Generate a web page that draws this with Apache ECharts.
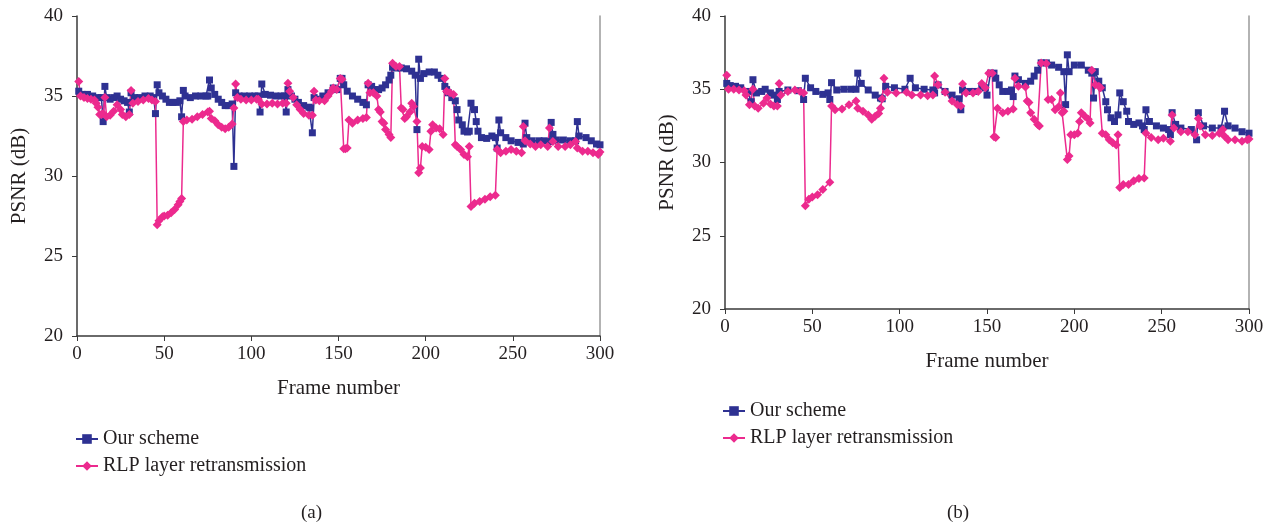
<!DOCTYPE html>
<html><head><meta charset="utf-8">
<script src="https://cdn.jsdelivr.net/npm/echarts@6/dist/echarts.min.js"></script>
<style>html,body{margin:0;padding:0;background:#fff}#c{width:1273px;height:525px}</style>
</head><body><div id="c"></div>
<script>
// ---------- data ----------
const seriesNames = ['Our scheme', 'RLP layer retransmission'];
const xTicks = [0, 50, 100, 150, 200, 250, 300];
const yTicks = [20, 25, 30, 35, 40];
const panelLabels = ['(a)', '(b)'];

// panel (a): [frame, PSNR dB]
const oursA = [[1,35.3],[3,35.1],[6,35.1],[9,35.0],[12,34.9],[14,34.9],[15,33.4],[16,35.6],[17,34.9],[19,34.8],[21,34.9],[23,35.0],[25,34.8],[27,34.7],[29,34.6],[30,34.0],[31,35.2],[33,34.9],[36,34.9],[39,35.0],[42,35.0],[44,34.9],[45,33.9],[46,35.7],[47,35.2],[49,35.0],[51,34.8],[53,34.6],[55,34.6],[57,34.6],[59,34.7],[60,33.7],[61,35.35],[62,35.0],[65,34.9],[68,35.0],[71,35.0],[74,35.0],[75,35.0],[76,36.0],[77,35.5],[79,35.1],[81,34.8],[83,34.6],[85,34.4],[87,34.4],[89,34.5],[90,30.6],[91,35.2],[93,35.0],[96,35.0],[99,35.0],[102,35.0],[104,35.0],[105,34.0],[106,35.75],[108,35.1],[111,35.05],[114,35.0],[117,35.0],[119,35.0],[120,34.0],[121,35.4],[123,35.0],[125,34.8],[127,34.6],[130,34.4],[133,34.3],[134,34.25],[135,32.7],[136,34.9],[138,34.8],[141,35.0],[144,35.2],[147,35.5],[149,35.4],[151,36.1],[152,36.1],[153,35.7],[155,35.3],[158,35.0],[161,34.8],[164,34.6],[166,34.45],[167,35.7],[169,35.6],[171,35.4],[173,35.4],[175,35.5],[177,35.7],[179,36.0],[180,36.3],[181,36.8],[183,36.75],[186,36.75],[189,36.7],[192,36.55],[194,36.3],[195,32.9],[196,37.3],[197,36.1],[199,36.4],[202,36.5],[205,36.5],[207,36.3],[209,36.1],[211,35.6],[212,35.4],[213,35.2],[215,34.9],[217,34.7],[218,34.15],[219,33.5],[221,33.2],[222,32.8],[224,32.75],[225,32.8],[226,34.55],[228,34.15],[229,33.4],[230,32.8],[232,32.4],[235,32.35],[238,32.5],[240,32.4],[241,31.75],[242,33.5],[243,32.7],[246,32.4],[249,32.2],[253,32.1],[256,32.0],[257,33.3],[258,32.4],[261,32.2],[265,32.2],[268,32.2],[271,32.15],[272,33.35],[273,32.6],[275,32.25],[279,32.25],[283,32.2],[286,32.2],[287,33.4],[288,32.5],[292,32.4],[295,32.2],[298,32.0],[300,31.95]];
const rlpA = [[1,35.9],[2,35.0],[4,34.9],[6,34.85],[8,34.8],[10,34.75],[11,34.55],[12,34.3],[13,33.85],[14,33.85],[15,33.9],[16,34.9],[17,33.7],[19,33.8],[21,34.05],[23,34.45],[25,34.15],[26,33.85],[28,33.7],[30,33.85],[31,35.35],[32,34.55],[35,34.65],[38,34.75],[41,34.85],[43,34.75],[45,34.65],[46,26.95],[47,27.2],[49,27.45],[50,27.5],[52,27.55],[54,27.7],[56,27.9],[58,28.2],[59,28.4],[60,28.6],[61,33.4],[63,33.5],[66,33.55],[69,33.7],[72,33.85],[75,34.0],[76,34.05],[77,33.6],[79,33.45],[81,33.2],[83,33.05],[85,32.95],[87,33.05],[89,33.25],[90,34.25],[91,35.75],[92,34.9],[94,34.8],[97,34.75],[100,34.75],[103,34.8],[104,34.8],[106,34.5],[109,34.5],[112,34.55],[115,34.5],[118,34.55],[120,34.55],[121,35.8],[122,35.3],[124,34.9],[126,34.45],[128,34.15],[130,33.9],[133,33.8],[135,33.8],[136,35.3],[137,34.75],[139,34.7],[142,34.7],[144,35.0],[146,35.3],[147,35.5],[149,35.4],[151,36.1],[152,36.05],[153,31.7],[154,31.7],[155,31.75],[156,33.5],[158,33.3],[161,33.5],[164,33.6],[166,33.65],[167,35.8],[168,35.2],[170,35.2],[172,35.0],[173,34.15],[174,34.0],[175,33.4],[176,33.3],[177,32.9],[179,32.6],[180,32.4],[181,37.05],[183,36.85],[185,36.85],[186,34.25],[187,34.15],[188,33.6],[189,33.7],[191,34.0],[192,34.55],[193,34.35],[195,33.4],[196,30.2],[197,30.5],[198,31.85],[200,31.8],[202,31.65],[203,32.8],[204,33.2],[206,33.0],[208,32.95],[210,32.6],[211,36.1],[212,35.3],[214,35.2],[216,35.1],[217,31.95],[218,31.85],[220,31.65],[222,31.35],[224,31.2],[225,31.85],[226,28.1],[228,28.3],[231,28.4],[234,28.55],[237,28.7],[240,28.8],[241,31.65],[243,31.45],[246,31.55],[249,31.65],[252,31.55],[255,31.45],[256,33.1],[257,32.2],[260,32.0],[263,31.85],[266,31.95],[270,31.85],[271,33.0],[273,32.15],[276,31.85],[280,31.85],[283,31.95],[286,32.15],[287,31.75],[290,31.55],[293,31.55],[296,31.45],[299,31.35],[300,31.5]];

// panel (b): [frame, PSNR dB]
const oursB = [[1,35.4],[3,35.25],[6,35.2],[9,35.1],[13,34.85],[15,34.15],[16,35.65],[18,34.75],[21,34.85],[23,35.0],[26,34.75],[28,34.6],[30,34.3],[31,34.85],[36,34.95],[42,34.9],[45,34.3],[46,35.75],[49,35.1],[52,34.85],[56,34.65],[59,34.75],[60,34.3],[61,35.45],[64,34.95],[68,35.0],[72,35.0],[75,35.0],[76,36.1],[78,35.4],[82,34.95],[86,34.6],[89,34.4],[90,34.35],[92,35.2],[97,35.1],[103,35.0],[106,35.75],[109,35.1],[114,35.0],[119,34.95],[120,34.75],[122,35.3],[126,34.85],[130,34.6],[134,34.35],[135,33.6],[136,34.95],[140,34.85],[143,34.85],[147,35.2],[149,35.1],[150,34.6],[152,36.1],[154,36.1],[155,35.75],[157,35.3],[159,34.85],[162,34.85],[164,34.95],[165,34.5],[166,35.9],[168,35.65],[172,35.4],[175,35.55],[177,35.9],[179,36.3],[181,36.8],[184,36.8],[187,36.65],[191,36.5],[194,36.2],[195,33.95],[196,37.35],[197,36.2],[200,36.65],[204,36.65],[208,36.3],[210,36.1],[211,34.4],[212,36.2],[214,35.55],[216,35.1],[218,34.15],[219,33.6],[221,33.05],[223,32.8],[225,33.25],[226,34.75],[228,34.15],[230,33.5],[231,32.8],[234,32.6],[237,32.7],[239,32.5],[240,32.25],[241,33.6],[243,32.8],[247,32.5],[251,32.35],[254,32.25],[255,31.9],[256,33.4],[258,32.6],[261,32.35],[267,32.25],[270,31.55],[271,33.4],[274,32.5],[279,32.35],[284,32.35],[286,33.5],[288,32.5],[292,32.35],[296,32.1],[300,32.0]];
const rlpB = [[1,35.95],[2,35.0],[5,35.0],[8,34.95],[11,34.9],[12,34.6],[14,33.95],[16,35.0],[17,33.85],[19,33.7],[22,34.05],[24,34.4],[26,34.0],[28,33.85],[30,33.85],[31,35.4],[32,34.6],[36,34.85],[40,34.95],[43,34.85],[45,34.75],[46,27.05],[48,27.5],[50,27.65],[53,27.8],[56,28.15],[60,28.65],[61,33.85],[63,33.6],[67,33.65],[71,33.95],[75,34.2],[76,33.7],[79,33.5],[82,33.25],[84,32.95],[86,33.15],[88,33.35],[89,33.7],[90,34.35],[91,35.75],[93,34.8],[98,34.75],[104,34.8],[107,34.6],[112,34.6],[116,34.55],[119,34.6],[120,35.9],[122,35.3],[126,34.8],[130,34.2],[133,33.95],[135,33.85],[136,35.35],[138,34.75],[142,34.75],[145,34.85],[147,35.4],[149,35.1],[151,36.1],[153,36.1],[154,31.75],[155,31.7],[156,33.7],[159,33.4],[162,33.5],[165,33.65],[166,35.75],[168,35.2],[172,35.15],[173,34.2],[174,34.1],[175,33.4],[177,32.95],[179,32.6],[180,32.5],[181,36.8],[184,36.75],[185,34.3],[187,34.3],[189,33.6],[191,33.8],[192,34.75],[193,33.4],[194,33.5],[196,30.2],[197,30.45],[198,31.9],[200,31.9],[202,32.0],[203,32.8],[204,33.4],[206,33.15],[208,32.95],[209,32.7],[210,36.3],[212,35.3],[214,35.2],[215,35.1],[216,32.0],[218,31.9],[220,31.55],[222,31.35],[224,31.2],[225,31.9],[226,28.3],[228,28.5],[231,28.5],[234,28.75],[237,28.9],[240,28.95],[241,32.0],[244,31.7],[248,31.55],[251,31.65],[255,31.45],[256,33.25],[257,32.35],[261,32.1],[265,32.1],[269,31.9],[271,33.0],[272,32.5],[275,31.9],[279,31.85],[283,32.0],[285,32.25],[286,31.8],[288,31.55],[292,31.55],[296,31.45],[299,31.55],[300,31.6]];

// ---------- chart ----------
const BLUE = '#2e3192', PINK = '#ec2a8e';
const FONT = '"Liberation Serif", "DejaVu Serif", serif';
const TXT = '#231f20', AX = '#3a3a3a';

function xAxisCfg(gi) {
  return {
    type: 'value', gridIndex: gi, min: xTicks[0], max: xTicks[xTicks.length - 1], interval: 50,
    name: 'Frame number', nameLocation: 'middle', nameGap: 42,
    nameTextStyle: { fontFamily: FONT, fontSize: 21, color: TXT },
    axisLine: { lineStyle: { color: AX, width: 1.5 } },
    axisTick: { show: true, inside: false, length: 5, lineStyle: { color: AX } },
    axisLabel: { fontFamily: FONT, fontSize: 19, color: TXT, margin: 9 },
    splitLine: { show: false }
  };
}
function yAxisCfg(gi) {
  return {
    type: 'value', gridIndex: gi, min: yTicks[0], max: yTicks[yTicks.length - 1], interval: 5,
    name: 'PSNR (dB)', nameLocation: 'middle', nameGap: 47, nameRotate: 90,
    nameTextStyle: { fontFamily: FONT, fontSize: 21, color: TXT },
    axisLine: { show: true, lineStyle: { color: AX, width: 1.5 } },
    axisTick: { show: true, inside: false, length: 5, lineStyle: { color: AX } },
    axisLabel: { fontFamily: FONT, fontSize: 19, color: TXT, margin: 14 },
    splitLine: { show: false }
  };
}
function borderAxis(gi) {
  return {
    type: 'value', gridIndex: gi, position: 'right', min: yTicks[0], max: yTicks[yTicks.length - 1],
    axisLine: { show: true, onZero: false, lineStyle: { color: '#9a9a9a', width: 1.5 } },
    axisTick: { show: false }, axisLabel: { show: false }, splitLine: { show: false }
  };
}
function lineSeries(name, data, xi, yi, color, symbol, size) {
  return {
    type: 'line', name, data, xAxisIndex: xi, yAxisIndex: yi,
    symbol, symbolSize: size, showSymbol: true,
    lineStyle: { color, width: 1.5 }, itemStyle: { color, borderWidth: 0 },
    animation: false, silent: true
  };
}
function legendCfg(left, top) {
  return {
    orient: 'vertical', left, top, itemWidth: 22, itemHeight: 12, itemGap: 7,
    textStyle: { fontFamily: FONT, fontSize: 20, color: TXT },
    selectedMode: false, data: seriesNames
  };
}

const chart = echarts.init(document.getElementById('c'), null, { renderer: 'canvas' });
chart.setOption({
  backgroundColor: '#fff',
  animation: false,
  grid: [
    { left: 77, right: 673, top: 16, bottom: 189 },
    { left: 725, right: 24, top: 16, bottom: 216 }
  ],
  xAxis: [xAxisCfg(0), xAxisCfg(1)],
  yAxis: [yAxisCfg(0), yAxisCfg(1), borderAxis(0), borderAxis(1)],
  legend: [legendCfg(70, 424), legendCfg(717, 396)],
  series: [
    lineSeries(seriesNames[0], oursA, 0, 0, BLUE, 'rect', 7),
    lineSeries(seriesNames[1], rlpA, 0, 0, PINK, 'diamond', 9),
    lineSeries(seriesNames[0], oursB, 1, 1, BLUE, 'rect', 7),
    lineSeries(seriesNames[1], rlpB, 1, 1, PINK, 'diamond', 9)
  ],
  graphic: [
    { type: 'text', left: 301, top: 504, style: { text: panelLabels[0], font: '19px ' + FONT, fill: TXT } },
    { type: 'text', left: 947, top: 504, style: { text: panelLabels[1], font: '19px ' + FONT, fill: TXT } }
  ]
});
</script></body></html>
